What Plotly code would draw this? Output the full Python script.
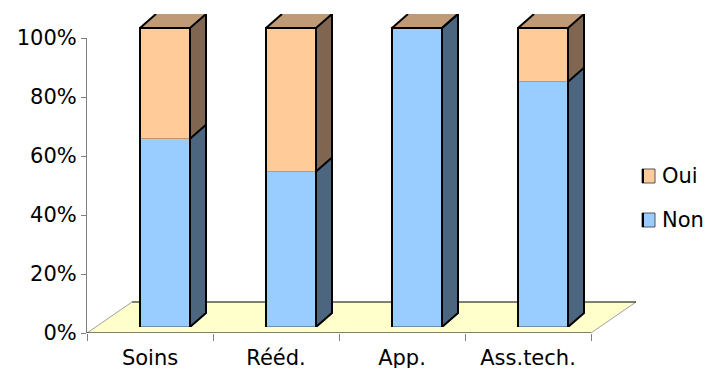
import plotly.graph_objects as go

# Data (percent of answers per category)
categories = ["Soins", "Rééd.", "App.", "Ass.tech."]
non_values = [63, 52, 100, 82]
oui_values = [37, 48, 0, 18]

# Figure geometry (pixels)
W, H = 707, 368
PL, PR = 87, 640          # plot area left/right
PT, PB = 14, 333          # plot area top/bottom
CAT_PX = 126              # pixels per category
AXIS_TOP = 38             # pixel row of 100% on the labelled axis
BAR_BOTTOM = 327          # bar front bottom row
BAR_TOP = 28              # bar front top row (100%)

# 3D styling constants
BAR_W = 50 / CAT_PX       # bar width in category units
BAR_OFF = -10 / CAT_PX    # bar left edge offset from category centre
DEPTH_X_PX, DEPTH_Y_PX = 16, 14
FLOOR_X_PX, FLOOR_Y_PX = 45, 31

plot_h = PB - PT
x_min = -0.5
x_max = x_min + (PR - PL) / CAT_PX

y_px_per = (PB - AXIS_TOP) / 100.0
y2_px_per = (BAR_BOTTOM - BAR_TOP) / 100.0
y2_range_top = (BAR_BOTTOM - PT) / y2_px_per

dx = DEPTH_X_PX / CAT_PX
dy = DEPTH_Y_PX / y2_px_per

NON_FRONT, NON_SIDE = "#99CCFF", "#4D6680"
OUI_FRONT, OUI_SIDE, OUI_TOP = "#FFCC99", "#806650", "#BF9A77"
FLOOR = "#FFFFCC"
FONT = "DejaVu Sans"
FS = 21

fig = go.Figure()

xs = list(range(len(categories)))

# Front faces of the stacked columns
fig.add_trace(go.Bar(
    x=xs, y=non_values, width=BAR_W, offset=BAR_OFF, yaxis="y2",
    marker=dict(color=NON_FRONT, line=dict(color="#6F8FB0", width=1)),
    name="Non", showlegend=False, hoverinfo="skip"))
fig.add_trace(go.Bar(
    x=xs, y=oui_values, width=BAR_W, offset=BAR_OFF, yaxis="y2",
    marker=dict(color=OUI_FRONT, line=dict(color="#C8956A", width=1)),
    name="Oui", showlegend=False, hoverinfo="skip"))


def poly(px, py, color):
    fig.add_trace(go.Scatter(
        x=px + [px[0]], y=py + [py[0]], yaxis="y2", mode="lines",
        fill="toself", fillcolor=color, line=dict(color=color, width=0.5),
        showlegend=False, hoverinfo="skip"))


for i, (n, o) in enumerate(zip(non_values, oui_values)):
    xl = i + BAR_OFF
    xr = xl + BAR_W
    t = n + o
    # side faces
    poly([xr, xr + dx, xr + dx, xr], [0, dy, n + dy, n], NON_SIDE)
    if o > 0:
        poly([xr, xr + dx, xr + dx, xr], [n, n + dy, t + dy, t], OUI_SIDE)
    # top face
    poly([xl, xl + dx, xr + dx, xr], [t, t + dy, t + dy, t], OUI_TOP)
    # outlines
    ox = [xl, xl, xr, xr, None, xl, xl + dx, None,
          xr, xr + dx, xr + dx, xr, None, xr, xr + dx]
    oy = [0, t, t, 0, None, t, t + dy, None,
          t, t + dy, dy, 0, None, n, n + dy]
    fig.add_trace(go.Scatter(
        x=ox, y=oy, yaxis="y2", mode="lines",
        line=dict(color="black", width=2),
        showlegend=False, hoverinfo="skip"))

# Floor of the 3D plot
fdx = FLOOR_X_PX / CAT_PX
fdy = FLOOR_Y_PX / y_px_per
x_end = x_min + len(categories)
shapes = [
    dict(type="path", xref="x", yref="y", layer="below",
         path=f"M {x_min},0 L {x_min + fdx},{fdy} L {x_end + fdx},{fdy} L {x_end},0 Z",
         fillcolor=FLOOR, line=dict(width=0)),
    dict(type="line", xref="x", yref="y", layer="below",
         x0=x_min, y0=0, x1=x_min + fdx, y1=fdy, line=dict(color="#A0A0A0", width=1)),
    dict(type="line", xref="x", yref="y", layer="below",
         x0=x_end, y0=0, x1=x_end + fdx, y1=fdy, line=dict(color="#A0A0A0", width=1)),
    dict(type="line", xref="x", yref="y", layer="below",
         x0=x_min + fdx, y0=fdy, x1=x_end + fdx, y1=fdy, line=dict(color="black", width=1)),
    # category axis line
    dict(type="line", xref="x", yref="y", layer="above",
         x0=x_min, y0=0, x1=x_end, y1=0, line=dict(color="black", width=1)),
]


def paper_x(px):
    return (px - PL) / (PR - PL)


def paper_y(py):
    return (PB - py) / plot_h


# Legend (Oui above Non)
annotations = []
for label, color, cy in [("Oui", OUI_FRONT, 176), ("Non", NON_FRONT, 220)]:
    shapes.append(dict(type="rect", xref="paper", yref="paper",
                       x0=paper_x(642), x1=paper_x(655),
                       y0=paper_y(cy + 7), y1=paper_y(cy - 7),
                       fillcolor=color, line=dict(color="#555555", width=1)))
    shapes.append(dict(type="line", xref="paper", yref="paper",
                       x0=paper_x(643), x1=paper_x(643),
                       y0=paper_y(cy + 7), y1=paper_y(cy - 7),
                       line=dict(color="black", width=2)))
    annotations.append(dict(text=label, xref="paper", yref="paper",
                            x=paper_x(660), y=paper_y(cy), xanchor="left",
                            yanchor="middle", showarrow=False,
                            font=dict(family=FONT, size=FS, color="black")))

fig.update_layout(
    width=W, height=H,
    margin=dict(l=PL, r=W - PR, t=PT, b=H - PB),
    paper_bgcolor="white", plot_bgcolor="rgba(0,0,0,0)",
    barmode="stack", bargap=0,
    showlegend=False,
    font=dict(family=FONT, size=FS, color="black"),
    xaxis=dict(range=[x_min, x_max], tickvals=xs, ticktext=categories,
               automargin=False, anchor="y",
               ticks="outside", ticklen=6, tickcolor="rgba(0,0,0,0)",
               showgrid=False, zeroline=False, showline=False,
               minor=dict(ticks="outside", tick0=-0.5, dtick=1, ticklen=7,
                          tickcolor="#808080", tickwidth=1, showgrid=False),
               tickfont=dict(family=FONT, size=FS, color="black")),
    yaxis=dict(domain=[0, (PB - AXIS_TOP) / plot_h], range=[0, 100],
               automargin=False, anchor="x",
               tickvals=[0, 20, 40, 60, 80, 100],
               ticktext=["0%", "20%", "40%", "60%", "80%", "100%"],
               ticks="outside", ticklen=5, tickcolor="#808080",
               showline=True, linecolor="#808080", linewidth=1,
               showgrid=False, zeroline=False,
               tickfont=dict(family=FONT, size=FS, color="black")),
    # Separate vertical scale for the column bodies, sharing the category axis
    yaxis2=dict(domain=[(PB - BAR_BOTTOM) / plot_h, 1], range=[0, y2_range_top],
                anchor="x", visible=False, showgrid=False, zeroline=False,
                automargin=False),
    shapes=shapes, annotations=annotations,
)

fig.write_html("out.html")
